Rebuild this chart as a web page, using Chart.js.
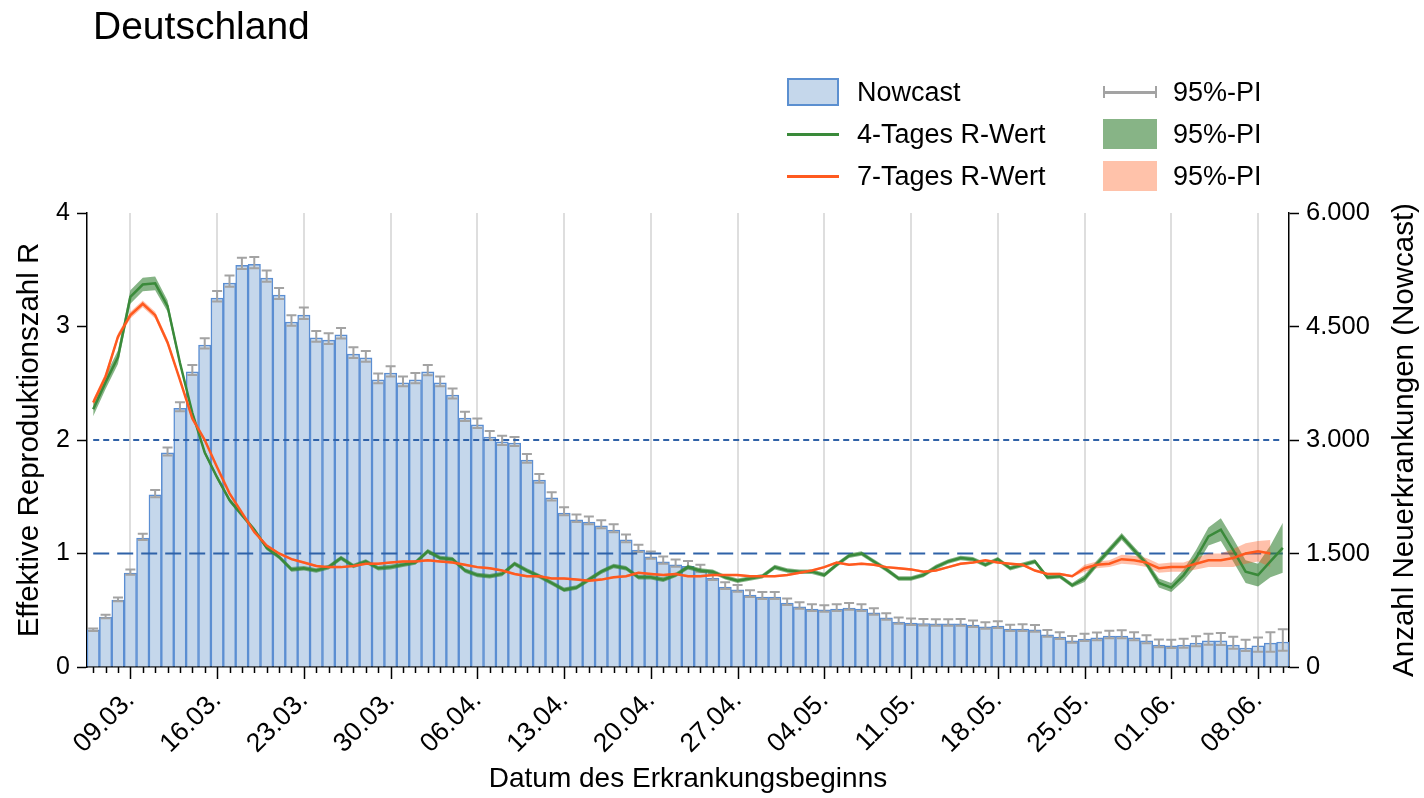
<!DOCTYPE html>
<html>
<head>
<meta charset="utf-8">
<script src="https://cdn.jsdelivr.net/npm/chart.js@4.4.0/dist/chart.umd.min.js"></script>
<style>
  body { margin: 0; background: #fff; font-family: "Liberation Sans", Arial, sans-serif; }
  #wrap { position: relative; width: 1424px; height: 798px; }
  #title { position: absolute; left: 93px; top: 6px; font-size: 39px; line-height: 39px; color: #000; }
  .leg { position: absolute; height: 40px; display: flex; align-items: center; font-size: 27px; color: #000; white-space: nowrap; }
  .sym { flex: none; margin-right: 18px; }
  .leg2 .sym { margin-right: 16px; }
</style>
</head>
<body>
<div id="wrap">
  <canvas id="chart" width="1424" height="798"></canvas>
  <div id="title">Deutschland</div>
  <div class="leg" style="left:787px; top:72px"><div class="sym" style="width:48px;height:24px;background:#c5d7eb;border:2px solid #5b8fd0"></div>Nowcast</div>
  <div class="leg" style="left:787px; top:114px"><div class="sym" style="width:52px;height:3px;background:#3a8a3a"></div>4-Tages R-Wert</div>
  <div class="leg" style="left:787px; top:156px"><div class="sym" style="width:52px;height:3px;background:#ff5a1f"></div>7-Tages R-Wert</div>
  <div class="leg leg2" style="left:1103px; top:72px"><div class="sym" style="width:50px;height:12px;border-left:2px solid #a3a3a3;border-right:2px solid #a3a3a3;background:linear-gradient(#a3a3a3,#a3a3a3) center/100% 3px no-repeat"></div>95%-PI</div>
  <div class="leg leg2" style="left:1103px; top:114px"><div class="sym" style="width:54px;height:30px;background:#87b486"></div>95%-PI</div>
  <div class="leg leg2" style="left:1103px; top:156px"><div class="sym" style="width:54px;height:30px;background:#ffc2aa"></div>95%-PI</div>
</div>
<script>
// Datum des Erkrankungsbeginns
const dates = [
  '06.03.', '07.03.', '08.03.', '09.03.', '10.03.', '11.03.', '12.03.', '13.03.', '14.03.', '15.03.',
  '16.03.', '17.03.', '18.03.', '19.03.', '20.03.', '21.03.', '22.03.', '23.03.', '24.03.', '25.03.',
  '26.03.', '27.03.', '28.03.', '29.03.', '30.03.', '31.03.', '01.04.', '02.04.', '03.04.', '04.04.',
  '05.04.', '06.04.', '07.04.', '08.04.', '09.04.', '10.04.', '11.04.', '12.04.', '13.04.', '14.04.',
  '15.04.', '16.04.', '17.04.', '18.04.', '19.04.', '20.04.', '21.04.', '22.04.', '23.04.', '24.04.',
  '25.04.', '26.04.', '27.04.', '28.04.', '29.04.', '30.04.', '01.05.', '02.05.', '03.05.', '04.05.',
  '05.05.', '06.05.', '07.05.', '08.05.', '09.05.', '10.05.', '11.05.', '12.05.', '13.05.', '14.05.',
  '15.05.', '16.05.', '17.05.', '18.05.', '19.05.', '20.05.', '21.05.', '22.05.', '23.05.', '24.05.',
  '25.05.', '26.05.', '27.05.', '28.05.', '29.05.', '30.05.', '31.05.', '01.06.', '02.06.', '03.06.',
  '04.06.', '05.06.', '06.06.', '07.06.', '08.06.', '09.06.', '10.06.'
];
const weekTicks = ['09.03.', '16.03.', '23.03.', '30.03.', '06.04.', '13.04.', '20.04.',
  '27.04.', '04.05.', '11.05.', '18.05.', '25.05.', '01.06.', '08.06.'];

// Nowcast (Anzahl Neuerkrankungen) with 95%-PI
const nowcast = [
  490, 660, 885, 1240, 1705, 2275, 2830, 3420, 3900, 4255,
  4875, 5075, 5310, 5320, 5140, 4915, 4560, 4650, 4350, 4320,
  4390, 4135, 4085, 3795, 3885, 3755, 3795, 3900, 3755, 3595,
  3290, 3200, 3040, 2975, 2960, 2735, 2470, 2235, 2035, 1945,
  1915, 1865, 1810, 1680, 1545, 1455, 1390, 1350, 1330, 1280,
  1175, 1055, 1020, 950, 925, 925, 845, 795, 765, 755,
  765, 780, 765, 715, 650, 595, 580, 575, 570, 570,
  570, 555, 530, 540, 500, 500, 490, 425, 395, 345,
  370, 385, 410, 410, 385, 345, 290, 280, 290, 315,
  345, 345, 290, 250, 280, 315, 330
];
const piHigh = [
  510, 690, 920, 1290, 1760, 2340, 2900, 3500, 3990, 4345,
  4970, 5175, 5410, 5420, 5240, 5010, 4650, 4750, 4440, 4410,
  4480, 4225, 4175, 3880, 3975, 3840, 3885, 3990, 3840, 3680,
  3375, 3285, 3120, 3055, 3040, 2815, 2550, 2310, 2110, 2015,
  1990, 1940, 1885, 1750, 1615, 1525, 1460, 1420, 1400, 1350,
  1240, 1120, 1085, 1015, 990, 990, 905, 855, 830, 815,
  830, 845, 830, 775, 710, 655, 640, 635, 630, 630,
  635, 615, 590, 605, 560, 565, 555, 490, 460, 410,
  440, 455, 480, 485, 460, 420, 365, 360, 375, 405,
  440, 450, 400, 360, 390, 460, 500
];
const piLow = [
  475, 645, 870, 1220, 1680, 2245, 2795, 3380, 3860, 4210,
  4830, 5025, 5260, 5270, 5090, 4865, 4510, 4600, 4300, 4270,
  4340, 4085, 4035, 3750, 3840, 3710, 3750, 3855, 3710, 3550,
  3250, 3160, 3000, 2935, 2920, 2700, 2435, 2200, 2005, 1915,
  1885, 1835, 1780, 1650, 1520, 1430, 1365, 1325, 1305, 1255,
  1150, 1030, 995, 925, 900, 900, 820, 770, 740, 730,
  740, 755, 740, 690, 625, 570, 555, 550, 545, 545,
  545, 530, 505, 515, 475, 475, 465, 400, 370, 320,
  345, 355, 380, 380, 355, 315, 260, 250, 255, 275,
  295, 290, 240, 210, 200, 200, 215
];

// 4-Tages R-Wert with 95%-PI
const r4 = [
  2.27, 2.51, 2.73, 3.26, 3.37, 3.38, 3.18, 2.68, 2.24, 1.89,
  1.67, 1.47, 1.34, 1.21, 1.05, 0.97, 0.86, 0.87, 0.85, 0.88,
  0.96, 0.89, 0.93, 0.87, 0.88, 0.90, 0.92, 1.02, 0.96, 0.95,
  0.85, 0.81, 0.80, 0.82, 0.91, 0.85, 0.80, 0.74, 0.68, 0.70,
  0.77, 0.84, 0.89, 0.87, 0.79, 0.79, 0.77, 0.81, 0.88, 0.85,
  0.84, 0.79, 0.76, 0.78, 0.80, 0.88, 0.85, 0.84, 0.84, 0.81,
  0.90, 0.98, 1.00, 0.93, 0.86, 0.78, 0.78, 0.81, 0.88, 0.93,
  0.96, 0.95, 0.90, 0.95, 0.87, 0.90, 0.93, 0.79, 0.80, 0.72,
  0.78, 0.91, 1.03, 1.15, 1.03, 0.91, 0.74, 0.70, 0.81, 0.96,
  1.15, 1.21, 1.03, 0.84, 0.81, 0.93, 1.05
];
const r4Lo = [
  2.21, 2.45, 2.67, 3.20, 3.31, 3.32, 3.13, 2.65, 2.22, 1.87,
  1.65, 1.45, 1.32, 1.19, 1.03, 0.95, 0.84, 0.85, 0.83, 0.86,
  0.94, 0.87, 0.91, 0.85, 0.86, 0.88, 0.90, 1.00, 0.94, 0.93,
  0.83, 0.79, 0.78, 0.80, 0.89, 0.83, 0.78, 0.72, 0.66, 0.68,
  0.75, 0.82, 0.87, 0.85, 0.77, 0.77, 0.75, 0.79, 0.86, 0.83,
  0.82, 0.77, 0.74, 0.76, 0.78, 0.86, 0.83, 0.82, 0.82, 0.79,
  0.88, 0.96, 0.98, 0.91, 0.84, 0.76, 0.76, 0.79, 0.86, 0.91,
  0.94, 0.93, 0.88, 0.93, 0.85, 0.88, 0.91, 0.77, 0.78, 0.70,
  0.75, 0.88, 1.00, 1.12, 1.00, 0.88, 0.70, 0.66, 0.76, 0.89,
  1.07, 1.11, 0.93, 0.74, 0.71, 0.79, 0.83
];
const r4Hi = [
  2.33, 2.57, 2.79, 3.32, 3.43, 3.44, 3.23, 2.71, 2.26, 1.91,
  1.69, 1.49, 1.36, 1.23, 1.07, 0.99, 0.88, 0.89, 0.87, 0.90,
  0.98, 0.91, 0.95, 0.89, 0.90, 0.92, 0.94, 1.04, 0.98, 0.97,
  0.87, 0.83, 0.82, 0.84, 0.93, 0.87, 0.82, 0.76, 0.70, 0.72,
  0.79, 0.86, 0.91, 0.89, 0.81, 0.81, 0.79, 0.83, 0.90, 0.87,
  0.86, 0.81, 0.78, 0.80, 0.82, 0.90, 0.87, 0.86, 0.86, 0.83,
  0.92, 1.00, 1.02, 0.95, 0.88, 0.80, 0.80, 0.83, 0.90, 0.95,
  0.98, 0.97, 0.92, 0.97, 0.89, 0.92, 0.95, 0.81, 0.82, 0.74,
  0.81, 0.94, 1.06, 1.18, 1.06, 0.94, 0.78, 0.74, 0.86, 1.03,
  1.23, 1.31, 1.13, 0.94, 0.91, 1.07, 1.27
];

// 7-Tages R-Wert with 95%-PI
const r7 = [
  2.33, 2.56, 2.91, 3.10, 3.20, 3.10, 2.86, 2.53, 2.19, 2.00,
  1.76, 1.53, 1.36, 1.19, 1.07, 1.00, 0.95, 0.92, 0.89, 0.88,
  0.88, 0.89, 0.91, 0.91, 0.92, 0.93, 0.93, 0.94, 0.93, 0.92,
  0.90, 0.88, 0.87, 0.85, 0.82, 0.80, 0.80, 0.78, 0.78, 0.77,
  0.76, 0.77, 0.79, 0.80, 0.83, 0.82, 0.81, 0.82, 0.80, 0.80,
  0.81, 0.81, 0.81, 0.80, 0.80, 0.80, 0.81, 0.83, 0.85, 0.88,
  0.92, 0.90, 0.91, 0.90, 0.88, 0.87, 0.86, 0.84, 0.85, 0.88,
  0.91, 0.92, 0.94, 0.92, 0.91, 0.90, 0.85, 0.82, 0.82, 0.80,
  0.87, 0.90, 0.91, 0.95, 0.94, 0.92, 0.87, 0.88, 0.88, 0.91,
  0.94, 0.94, 0.96, 1.00, 1.02, 1.00, null
];
const r7Lo = [
  2.30, 2.53, 2.88, 3.07, 3.17, 3.07, 2.83, 2.51, 2.17, 1.98,
  1.75, 1.52, 1.35, 1.18, 1.06, 0.99, 0.94, 0.91, 0.88, 0.87,
  0.87, 0.88, 0.90, 0.90, 0.91, 0.92, 0.92, 0.93, 0.92, 0.91,
  0.89, 0.87, 0.86, 0.84, 0.81, 0.79, 0.79, 0.77, 0.77, 0.76,
  0.75, 0.76, 0.78, 0.79, 0.82, 0.81, 0.80, 0.81, 0.79, 0.79,
  0.80, 0.80, 0.80, 0.79, 0.79, 0.79, 0.80, 0.82, 0.84, 0.87,
  0.91, 0.89, 0.90, 0.89, 0.87, 0.86, 0.85, 0.83, 0.84, 0.87,
  0.90, 0.91, 0.93, 0.91, 0.90, 0.89, 0.84, 0.81, 0.81, 0.79,
  0.84, 0.87, 0.88, 0.91, 0.90, 0.88, 0.83, 0.84, 0.84, 0.86,
  0.88, 0.88, 0.88, 0.91, 0.93, 0.88, null
];
const r7Hi = [
  2.36, 2.59, 2.94, 3.13, 3.23, 3.13, 2.89, 2.55, 2.21, 2.02,
  1.77, 1.54, 1.37, 1.20, 1.08, 1.01, 0.96, 0.93, 0.90, 0.89,
  0.89, 0.90, 0.92, 0.92, 0.93, 0.94, 0.94, 0.95, 0.94, 0.93,
  0.91, 0.89, 0.88, 0.86, 0.83, 0.81, 0.81, 0.79, 0.79, 0.78,
  0.77, 0.78, 0.80, 0.81, 0.84, 0.83, 0.82, 0.83, 0.81, 0.81,
  0.82, 0.82, 0.82, 0.81, 0.81, 0.81, 0.82, 0.84, 0.86, 0.89,
  0.93, 0.91, 0.92, 0.91, 0.89, 0.88, 0.87, 0.85, 0.86, 0.89,
  0.92, 0.93, 0.95, 0.93, 0.92, 0.91, 0.86, 0.83, 0.83, 0.81,
  0.90, 0.93, 0.94, 0.99, 0.98, 0.96, 0.91, 0.92, 0.92, 0.96,
  1.00, 1.00, 1.04, 1.09, 1.11, 1.12, null
];

// R = 2 (dotted) and R = 1 (dashed) reference lines
const refLevels = [2, 1];
const refDashes = [[6, 4], [16, 8]];

const rightTitle = 'Anzahl Neuerkrankungen (Nowcast)';
const font = '"Liberation Sans", Arial, sans-serif';

Chart.defaults.font.family = font;
Chart.defaults.color = '#000';

// error bars, reference lines, x-axis tick marks and the right axis title
const extras = {
  id: 'extras',
  afterDatasetDraw(chart, args) {
    if (args.index !== 0) return;
    const ctx = chart.ctx;
    const xs = chart.scales.x, y2 = chart.scales.y2, y = chart.scales.y;
    ctx.save();
    ctx.strokeStyle = '#a3a3a3';
    ctx.lineWidth = 2;
    for (let i = 0; i < dates.length; i++) {
      const px = xs.getPixelForValue(i);
      const top = y2.getPixelForValue(piHigh[i]);
      const bot = y2.getPixelForValue(piLow[i]);
      ctx.beginPath();
      ctx.moveTo(px, top); ctx.lineTo(px, bot);
      ctx.moveTo(px - 5, top); ctx.lineTo(px + 5, top);
      ctx.moveTo(px - 5, bot); ctx.lineTo(px + 5, bot);
      ctx.stroke();
    }
    ctx.strokeStyle = '#2f62a8';
    ctx.lineWidth = 2.2;
    const x0 = xs.getPixelForValue(0), x1 = xs.getPixelForValue(dates.length - 1);
    refLevels.forEach((lv, k) => {
      const py = y.getPixelForValue(lv);
      ctx.setLineDash(refDashes[k]);
      ctx.beginPath();
      ctx.moveTo(x0, py); ctx.lineTo(x1, py);
      ctx.stroke();
    });
    ctx.restore();
  },
  afterDraw(chart) {
    const ctx = chart.ctx, xs = chart.scales.x;
    const area = chart.chartArea;
    ctx.save();
    ctx.strokeStyle = '#000';
    ctx.lineWidth = 1.5;
    for (let i = 0; i < dates.length; i++) {
      const px = Math.round(xs.getPixelForValue(i)) + 0.5;
      const len = weekTicks.includes(dates[i]) ? 12 : 6;
      ctx.beginPath();
      ctx.moveTo(px, area.bottom); ctx.lineTo(px, area.bottom + len);
      ctx.stroke();
    }
    // right axis title reads bottom-to-top like the left one
    ctx.translate(1405, (area.top + area.bottom) / 2);
    ctx.rotate(-Math.PI / 2);
    ctx.fillStyle = '#000';
    ctx.font = '29.5px ' + font;
    ctx.textAlign = 'center';
    ctx.textBaseline = 'middle';
    ctx.fillText(rightTitle, 0, 0);
    ctx.restore();
  }
};

const bandLine = { pointRadius: 0, borderWidth: 0, tension: 0, yAxisID: 'y' };

new Chart(document.getElementById('chart'), {
  type: 'bar',
  data: {
    labels: dates,
    datasets: [
      {
        label: 'Nowcast',
        data: nowcast,
        yAxisID: 'y2',
        backgroundColor: '#c5d7eb',
        borderColor: '#5b8ed2',
        borderWidth: 1.5,
        barPercentage: 1,
        categoryPercentage: 1,
        order: 10
      },
      { ...bandLine, type: 'line', label: '95%-PI', data: r4Lo, fill: false, order: 4 },
      { ...bandLine, type: 'line', label: '95%-PI', data: r4Hi, fill: '-1', backgroundColor: 'rgba(46,125,46,0.58)', order: 4 },
      { ...bandLine, type: 'line', label: '95%-PI', data: r7Lo, fill: false, order: 3 },
      { ...bandLine, type: 'line', label: '95%-PI', data: r7Hi, fill: '-1', backgroundColor: 'rgba(255,90,31,0.38)', order: 3 },
      {
        type: 'line', label: '4-Tages R-Wert', data: r4, yAxisID: 'y',
        borderColor: '#3a8a3a', borderWidth: 2.5, pointRadius: 0, tension: 0, fill: false, order: 2
      },
      {
        type: 'line', label: '7-Tages R-Wert', data: r7, yAxisID: 'y',
        borderColor: '#ff5a1f', borderWidth: 2.5, pointRadius: 0, tension: 0, fill: false, order: 1
      }
    ]
  },
  options: {
    responsive: false,
    animation: false,
    layout: { padding: { top: 213, left: 0, right: 0, bottom: 0 } },
    plugins: { legend: { display: false }, tooltip: { enabled: false } },
    scales: {
      x: {
        offset: true,
        grid: {
          offset: false,
          drawTicks: false,
          lineWidth: 2,
          color: ctx => (ctx.tick && weekTicks.includes(dates[ctx.index])) ? '#dedede' : 'rgba(0,0,0,0)'
        },
        border: { display: true, color: '#000', width: 1.5 },
        ticks: {
          autoSkip: false,
          minRotation: 45,
          maxRotation: 45,
          padding: 18,
          font: { size: 26.5 },
          callback: (v, i) => weekTicks.includes(dates[i]) ? dates[i] : ''
        },
        title: { display: true, text: 'Datum des Erkrankungsbeginns', font: { size: 28, lineHeight: 1 }, padding: { top: 0, bottom: 5 } },
        afterFit: s => { s.height = 131; }
      },
      y: {
        position: 'left',
        min: 0, max: 4,
        grid: { drawOnChartArea: false, tickLength: 10, tickColor: '#000', tickWidth: 1.5 },
        border: { display: true, color: '#000', width: 1.5 },
        ticks: { stepSize: 1, padding: 7, font: { size: 25 } },
        title: { display: true, text: 'Effektive Reproduktionszahl R', font: { size: 29.5, lineHeight: 1 }, padding: { top: 15, bottom: 0 } },
        afterFit: s => { s.width = 87; }
      },
      y2: {
        position: 'right',
        min: 0, max: 6000,
        grid: { drawOnChartArea: false, tickLength: 10, tickColor: '#000', tickWidth: 1.5 },
        border: { display: true, color: '#000', width: 1.5 },
        ticks: {
          stepSize: 1500, padding: 7, font: { size: 25.5 },
          callback: v => String(v).replace(/\B(?=(\d{3})+(?!\d))/g, '.')
        },
        title: { display: false },
        afterFit: s => { s.width = 135; }
      }
    }
  },
  plugins: [extras]
});
</script>
</body>
</html>
